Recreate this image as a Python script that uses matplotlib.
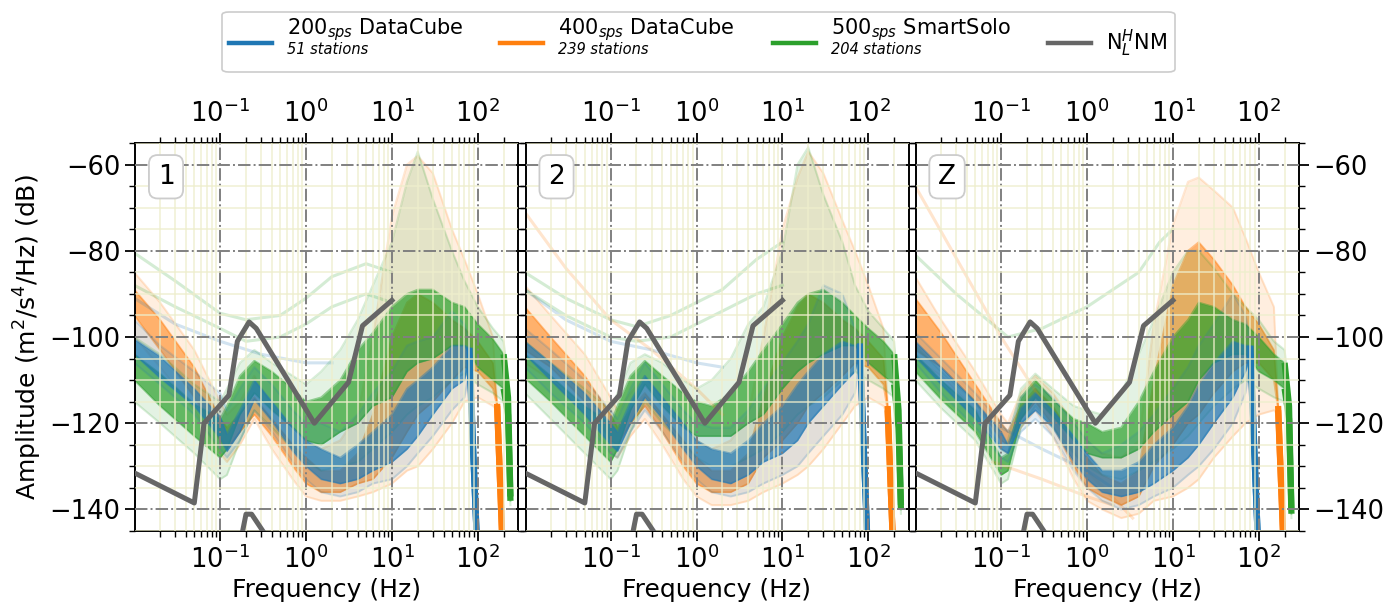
import numpy as np
import matplotlib
matplotlib.use("Agg")
import matplotlib.pyplot as plt
from matplotlib.lines import Line2D
from matplotlib.patches import FancyBboxPatch
from matplotlib.ticker import LogLocator, MultipleLocator, NullFormatter, FixedLocator

# ---------------------------------------------------------------- data
# frequency knots (Hz) shared by every station group up to 70 Hz
F_COMMON = [0.01, 0.02, 0.05, 0.1, 0.12, 0.17, 0.25, 0.4, 0.7, 1.0, 1.5,
            2.5, 4.0, 6.0, 10.0, 15.0, 20.0, 30.0, 50.0, 70.0]
# anti-alias roll-off knots near each Nyquist frequency
F_BLUE_TAIL = [80.0, 88.0, 97.0]
F_ORANGE_TAIL = [100.0, 150.0, 168.0, 192.0]
F_GREEN_TAIL = [100.0, 150.0, 200.0, 225.0, 240.0]

# PSD envelopes in dB, rows: outer low, core low, core high, outer high
H1_BLUE = [
    [-106, -111, -118, -126, -128, -124, -117, -122, -129, -133, -136, -137, -136, -134, -133, -130, -127, -123, -117, -114, -108, -127, -146],
    [-104, -109.5, -116, -123.5, -126.5, -122, -114.5, -119.5, -126.5, -130, -133, -134, -133, -131, -129, -126, -123, -118, -112, -110, -105, -126, -146],
    [-100.5, -104.5, -112, -118.5, -122.5, -117, -110, -115, -121, -124, -126, -128, -125, -122, -118, -112, -110, -107, -102, -102, -102.5, -125, -146],
    [-96, -102, -108, -113, -117, -112, -107, -111, -117, -120, -120, -122, -118, -113, -108, -102, -101, -100, -94, -97, -101, -124, -146],
]
H1_ORANGE = [
    [-100, -107, -117, -127, -129, -125, -119, -126, -133, -137, -138, -138, -137, -136, -134, -131, -130, -126, -120, -115, -114, -116, -117, -146],
    [-95, -103, -114, -124, -126, -122, -118, -123, -130, -134, -136, -136, -134, -133, -128, -122, -118, -115, -110, -107, -108, -112, -116, -146],
    [-89, -96, -107, -119, -121, -118, -114, -119, -125, -128, -131, -131, -127, -118, -100, -92, -90, -92, -96, -98, -101, -106, -115.5, -146],
    [-85, -92, -103, -115, -118, -115, -109, -116, -121, -124, -126, -124, -118, -100, -72, -60, -58, -62, -75, -82, -90, -100, -115, -146],
]
H1_GREEN = [
    [-115, -120, -127, -133, -132, -124, -117, -121, -126, -129, -131, -130, -129, -126, -122, -118, -116, -114, -110, -108.5, -111, -113, -115, -121, -139],
    [-110, -116, -123, -128, -126, -118, -113, -117, -121, -124, -125, -122, -120, -116, -114, -108, -106, -105, -102, -102, -107, -110, -112, -118, -138],
    [-104, -108.5, -115.5, -119, -116, -109, -105.5, -108, -112, -115, -114, -110, -103, -99, -93, -90, -89, -89, -92, -93, -97, -100.5, -104, -114, -137],
    [-100, -104, -111, -115, -112, -106, -103, -106, -109, -111, -108, -103, -96, -88, -78, -64, -57, -68, -80, -87, -93, -98, -101, -110, -136],
]

H2_BLUE = [
    [-107, -113, -120, -127, -128, -122, -117, -122, -129, -133, -136, -137, -136, -134, -132, -130, -127, -123, -118, -113, -105, -126, -146],
    [-104, -110, -118, -125, -126.5, -120, -114, -119, -126, -130, -133, -134, -132, -129, -127, -124, -120, -116, -111, -108, -103, -125, -146],
    [-101, -106, -113, -120, -122, -115, -109, -114, -120, -124, -126, -127, -124, -120, -116, -111, -108, -104, -101, -102, -101.5, -124, -146],
    [-98, -103, -110, -117, -119, -112, -106, -111, -117, -120, -121, -121, -117, -112, -106, -101, -97, -88, -90, -98, -100, -123, -146],
]
H2_ORANGE = [
    [-106, -110, -118, -127, -128, -123, -119, -125, -133, -137, -139, -139, -138, -136, -134, -132, -130, -126, -120, -116, -114, -116, -118, -146],
    [-103, -107, -115, -124, -125, -120, -116, -122, -130, -134, -136, -136, -134, -128, -124, -120, -116, -113, -109, -106, -107, -111, -117, -146],
    [-93, -100, -109, -118, -121, -117, -113, -118, -124, -128, -131, -131, -127, -114, -100, -93, -90, -92, -96, -98, -101, -105, -116, -146],
    [-88, -95, -104, -114, -117, -113, -109, -114, -120, -124, -126, -124, -118, -100, -75, -63, -57, -62, -73, -80, -88, -98, -115, -146],
]
H2_GREEN = [
    [-113, -119, -127, -133, -131, -122, -115, -120, -125, -128, -130, -130, -128, -126, -122, -118, -116, -114, -110, -108, -110, -112, -114, -124, -141],
    [-109.5, -115, -123, -129, -126, -117, -111, -116, -121, -123, -123, -123, -120, -118, -112, -108, -106, -104, -102, -102, -106, -109, -111, -121, -140],
    [-104, -109, -116, -120, -116, -109, -105.5, -109, -113, -115, -116, -113, -108, -103, -97, -92, -90, -89, -92, -95, -98, -101, -104, -117, -139],
    [-101, -106, -112, -117, -113, -106, -104, -106, -110, -112, -110, -105, -97, -93, -80, -60, -56, -67, -78, -88, -94, -98, -101, -114, -138],
]

Z_BLUE = [
    [-106, -113, -121, -128, -129, -122, -119, -123, -131, -135, -138, -140, -139, -137, -135, -132, -130, -126, -120, -113, -106, -126, -146],
    [-104.5, -111, -119, -126, -127, -120, -117, -121, -129, -133, -136, -137, -136, -134, -131, -128, -125, -120, -114, -108, -104, -125, -146],
    [-101, -107, -115, -122, -125, -116.5, -113, -117, -123, -127, -131, -131, -129, -125, -121, -116, -111, -106, -101, -102, -102, -124, -146],
    [-99, -105, -113, -120, -122, -114, -111, -114, -120, -124, -127, -125, -122, -118, -112, -107, -102, -97, -90, -95, -101, -123, -146],
]
Z_ORANGE = [
    [-105, -109, -117, -126, -127, -121, -117, -123, -133, -138, -140, -142, -141, -138, -137, -135, -133, -128, -123, -120, -118, -117, -118, -146],
    [-103, -107, -115, -124, -125, -119, -115, -120.5, -130, -135, -137, -139, -137, -130, -125, -120, -118, -113, -108, -106, -106, -110, -117, -146],
    [-91, -99, -111, -120, -122, -116, -112, -116, -124, -128, -132, -134, -131, -110, -88, -80, -78, -82, -88, -93, -97, -103, -116, -146],
    [-86, -96, -108, -118, -120, -113, -109, -113, -120, -124, -127, -128, -124, -97, -74, -64, -63, -66, -70, -77, -85, -93, -115, -146],
]
Z_GREEN = [
    [-110, -116.5, -124, -134, -133, -121, -116, -121, -127, -130, -132, -133, -131, -129, -126, -123, -120, -116, -112, -110, -112, -114, -115, -122, -142],
    [-108, -114.5, -122, -132, -131, -119, -114, -118.5, -124, -127, -128, -128, -126, -122, -118, -115, -110, -106, -104, -104, -108, -110, -112, -119, -141],
    [-104, -110, -117, -128, -127, -114, -110, -114.5, -119, -120, -122, -121, -115, -108, -100, -96, -92, -93, -96, -97, -100, -104, -106, -116, -140],
    [-102, -108, -115, -126, -124, -112, -108.5, -112, -116, -117, -118, -113, -104, -96, -85, -80, -80, -84, -90, -93, -96, -101, -103, -113, -139],
]

# isolated station spectra standing apart from the main groups
H1_STRAY_F = [0.01, 0.03, 0.1, 0.2, 0.5, 1.0, 2.0, 5.0, 10.0]
H1_STRAY_GREEN_A = [-80.5, -87, -94.5, -96, -95, -91, -86, -83, -85]
H1_STRAY_GREEN_B = [-88, -93, -98, -101, -100, -97, -93, -90, -92]
H1_STRAY_BLUE_F = [0.01, 0.03, 0.1, 0.3, 1.0, 2.0]
H1_STRAY_BLUE = [-91, -97, -101, -104, -106, -106]

H2_STRAY_F = [0.01, 0.03, 0.1, 0.2, 0.5, 1.0, 2.0, 5.0, 10.0]
H2_STRAY_GREEN_A = [-85, -91, -96, -97.6, -95, -92, -89, -82, -78]
H2_STRAY_GREEN_B = [-89, -95, -100, -101, -100, -97, -94, -90, -88]
H2_STRAY_BLUE_F = [0.01, 0.03, 0.1, 0.3, 1.0, 2.0]
H2_STRAY_BLUE = [-89, -96, -101, -103, -106, -107]
H2_STRAY_ORANGE = [-71, -84, -96, -103, -112, -118]

Z_STRAY_GREEN_F = [0.01, 0.03, 0.12, 0.3, 1.0, 2.0, 4.0, 7.0, 10.0]
Z_STRAY_GREEN = [-81, -90, -100, -98, -93, -89, -85, -78, -75]
Z_STRAY_ORANGE_F = [0.01, 0.1, 0.3, 1.0, 3.4]
Z_STRAY_ORANGE = [-65, -100, -115, -131, -142]
Z_STRAY_ORANGE2_F = [0.08, 0.3, 1.0, 2.0]
Z_STRAY_ORANGE2 = [-129, -133, -137, -139]
Z_STRAY_BLUE_F = [0.05, 0.1, 0.3, 1.0, 2.0]
Z_STRAY_BLUE = [-117, -121, -126, -131, -135]

# Peterson (1993) new high / low noise models, corner points (Hz, dB)
NHNM_F = [0.01, 0.05, 0.0649, 0.1266, 0.1587, 0.2174, 0.2632, 1.25, 3.125, 4.545, 10.0]
NHNM_DB = [-131.5, -138.5, -120.0, -113.5, -101.0, -96.5, -98.0, -120.0, -110.5, -97.4, -91.5]
NLNM_F = [0.01, 0.01429, 0.0222, 0.0316, 0.0457, 0.0641, 0.0833, 0.1, 0.1667,
          0.2, 0.2326, 0.4167, 0.8065, 1.25, 2.5, 5.88, 10.0]
NLNM_DB = [-185.1, -187.5, -187.5, -185.0, -177.5, -162.1, -166.3, -163.75, -149.0,
           -141.1, -141.1, -148.65, -163.7, -169.2, -166.7, -166.7, -168.0]

PANEL_NAMES = ["1", "2", "Z"]
GROUP_NAMES = ["200$_{sps}$ DataCube", "400$_{sps}$ DataCube", "500$_{sps}$ SmartSolo"]
GROUP_COUNTS = ["51 stations", "239 stations", "204 stations"]
NM_NAME = "N$_L^H$NM"
X_MAJOR = [0.1, 1.0, 10.0, 100.0]

# ---------------------------------------------------------------- style
C_BLUE, C_ORANGE, C_GREEN, C_NM = "#1f77b4", "#ff7f0e", "#2ca02c", "#666666"
W, H, DPI = 1386, 605, 100
FS_TICK = 18.5
FS_LABEL = 18

fig = plt.figure(figsize=(W / DPI, H / DPI), dpi=DPI)


def draw_group(ax, freqs, env, color, n_tail, z, core_alpha):
    lo_o, lo_c, hi_c, hi_o = [np.asarray(r, float) for r in env]
    ax.fill_between(freqs, lo_o, hi_o, color=color, alpha=0.13, lw=0, zorder=z)
    ax.fill_between(freqs, lo_c, hi_c, color=color, alpha=core_alpha, lw=0, zorder=z)
    ax.plot(freqs, lo_o, color=color, alpha=0.18, lw=1.5, zorder=z)
    ax.plot(freqs, hi_o, color=color, alpha=0.18, lw=1.5, zorder=z)
    ax.plot(freqs, lo_c, color=color, alpha=0.45, lw=1.3, zorder=z)
    ax.plot(freqs, hi_c, color=color, alpha=0.45, lw=1.3, zorder=z)
    ax.plot(freqs[-n_tail:], hi_c[-n_tail:], color=color, lw=4.5,
            solid_capstyle="butt", zorder=z + 0.1)
    ax.plot(freqs[-n_tail:], lo_c[-n_tail:], color=color, lw=4.5,
            solid_capstyle="butt", zorder=z + 0.1)


def stray(ax, f, db, color, z):
    ax.plot(f, db, color=color, alpha=0.2, lw=2.2, zorder=z)


panels = [
    (H1_BLUE, H1_ORANGE, H1_GREEN),
    (H2_BLUE, H2_ORANGE, H2_GREEN),
    (Z_BLUE, Z_ORANGE, Z_GREEN),
]

f_blue = F_COMMON + F_BLUE_TAIL
f_orange = F_COMMON + F_ORANGE_TAIL
f_green = F_COMMON + F_GREEN_TAIL

axes = []
for i, (blue, orange, green) in enumerate(panels):
    left = (135 + 390.5 * i) / W
    ax = fig.add_axes([left, (H - 531) / H, 383 / W, 388 / H])
    axes.append(ax)
    ax.set_xscale("log")

    draw_group(ax, f_orange, orange, C_ORANGE, 2, 1.0, 0.55)
    draw_group(ax, f_green, green, C_GREEN, 3, 1.2, 0.7)
    draw_group(ax, f_blue, blue, C_BLUE, 3, 1.4, 0.7)

    if i == 0:
        stray(ax, H1_STRAY_F, H1_STRAY_GREEN_A, C_GREEN, 1.3)
        stray(ax, H1_STRAY_F, H1_STRAY_GREEN_B, C_GREEN, 1.3)
        stray(ax, H1_STRAY_BLUE_F, H1_STRAY_BLUE, C_BLUE, 1.3)
    elif i == 1:
        stray(ax, H2_STRAY_F, H2_STRAY_GREEN_A, C_GREEN, 1.3)
        stray(ax, H2_STRAY_F, H2_STRAY_GREEN_B, C_GREEN, 1.3)
        stray(ax, H2_STRAY_BLUE_F, H2_STRAY_BLUE, C_BLUE, 1.3)
        stray(ax, H2_STRAY_BLUE_F, H2_STRAY_ORANGE, C_ORANGE, 1.3)
    else:
        stray(ax, Z_STRAY_GREEN_F, Z_STRAY_GREEN, C_GREEN, 1.3)
        stray(ax, Z_STRAY_ORANGE_F, Z_STRAY_ORANGE, C_ORANGE, 1.3)
        stray(ax, Z_STRAY_ORANGE2_F, Z_STRAY_ORANGE2, C_ORANGE, 1.3)
        stray(ax, Z_STRAY_BLUE_F, Z_STRAY_BLUE, C_BLUE, 1.3)

    ax.plot(NHNM_F, NHNM_DB, color=C_NM, lw=3.6, zorder=4)
    ax.plot(NLNM_F, NLNM_DB, color=C_NM, lw=3.6, zorder=4)

    ax.set_xlim(0.0102, 294)
    ax.set_ylim(-145, -55)
    ax.xaxis.set_major_locator(FixedLocator(X_MAJOR))
    ax.xaxis.set_minor_locator(LogLocator(base=10, subs=np.arange(2, 10), numticks=12))
    ax.xaxis.set_minor_formatter(NullFormatter())
    ax.yaxis.set_major_locator(MultipleLocator(20))
    ax.yaxis.set_minor_locator(MultipleLocator(5))

    ax.set_axisbelow(False)
    ax.grid(which="minor", color="#eeeecc", lw=1.2, ls="-", alpha=0.8)
    ax.grid(which="major", color="#808080", lw=1.4, ls="-.")

    ax.tick_params(which="both", direction="out", top=True, bottom=True,
                   left=True, right=True, labeltop=True, labelbottom=True,
                   labelleft=(i == 0), labelright=(i == 2), labelsize=FS_TICK)
    ax.tick_params(which="major", length=7, width=1.3)
    ax.tick_params(which="minor", length=4, width=1.0)
    for sp in ax.spines.values():
        sp.set_linewidth(1.4)

    ax.set_xlabel("Frequency (Hz)", fontsize=FS_LABEL, labelpad=3)
    ax.text(0.081, 0.913, PANEL_NAMES[i], transform=ax.transAxes, ha="center",
            va="center", fontsize=19, zorder=10,
            bbox=dict(boxstyle="round,pad=0.33", fc="white", ec="#cccccc", lw=1.3))

axes[0].set_ylabel("Amplitude (m$^2$/s$^4$/Hz) (dB)", fontsize=FS_LABEL)

# ---------------------------------------------------------------- legend
def px(x, y):
    return x / W, 1 - y / H


frame = FancyBboxPatch(px(222, 72), 953 / W, 60 / H, transform=fig.transFigure,
                       boxstyle="round,pad=0,rounding_size=0.005",
                       fc="white", ec="#cccccc", lw=1.2, zorder=5)
fig.patches.append(frame)

entries = [(C_BLUE, 229), (C_ORANGE, 500), (C_GREEN, 773)]
for (col, x0), name, count in zip(entries, GROUP_NAMES, GROUP_COUNTS):
    fig.add_artist(Line2D([x0 / W, (x0 + 43) / W], [1 - 43 / H] * 2,
                          transform=fig.transFigure, color=col, lw=3.2, zorder=6))
    fig.text(*px(x0 + 58, 30), name, fontsize=15, va="center", ha="left", zorder=6)
    fig.text(*px(x0 + 58, 49), count, fontsize=10.5, style="italic",
             va="center", ha="left", zorder=6)
fig.add_artist(Line2D([1048 / W, 1091 / W], [1 - 43 / H] * 2,
                      transform=fig.transFigure, color=C_NM, lw=3.2, zorder=6))
fig.text(*px(1106, 43), NM_NAME, fontsize=15, va="center", ha="left", zorder=6)

fig.savefig("out.png", dpi=DPI)
